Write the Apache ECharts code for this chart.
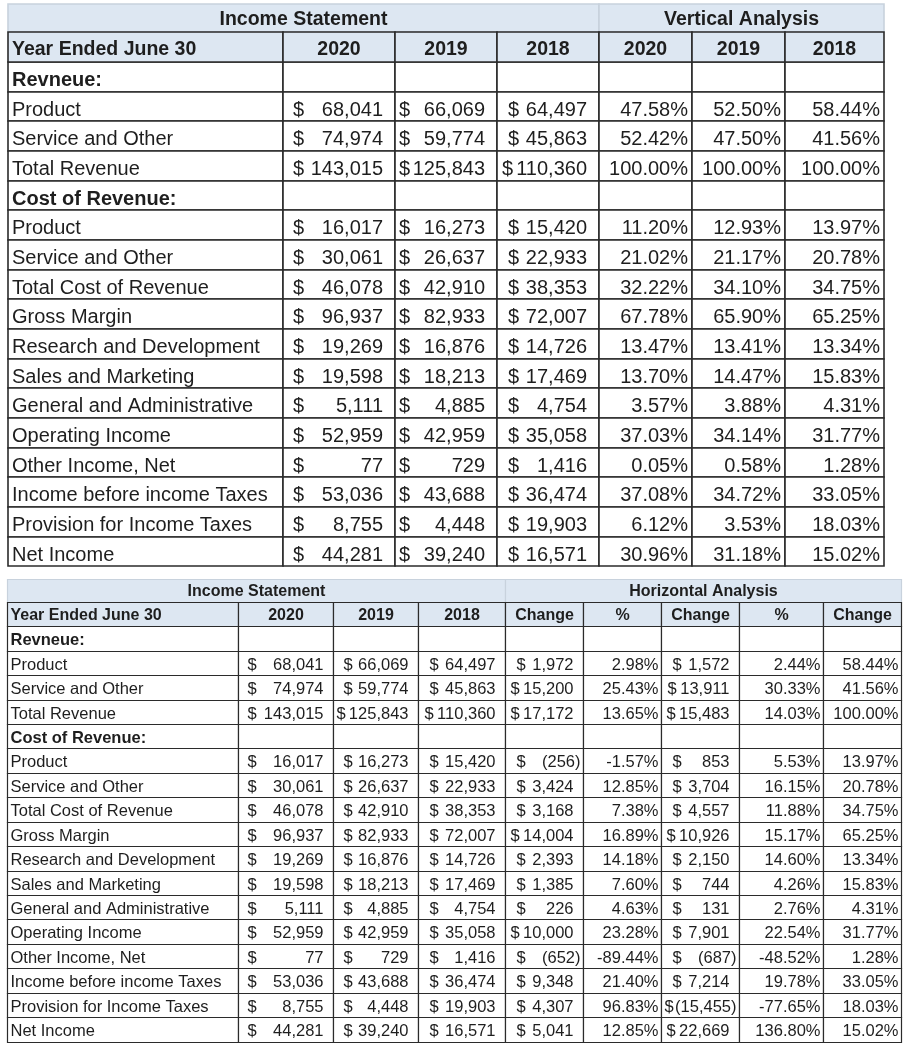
<!DOCTYPE html>
<html><head><meta charset="utf-8">
<script src="https://cdn.jsdelivr.net/npm/echarts@6/dist/echarts.min.js"></script>
<style>html,body{margin:0;padding:0;background:#fff}#c{width:910px;height:1052px}</style>
</head><body><div id="c"></div><script>
// ---------- data ----------
const rowLabels = ['Revneue:', 'Product', 'Service and Other', 'Total Revenue', 'Cost of Revenue:', 'Product', 'Service and Other', 'Total Cost of Revenue', 'Gross Margin', 'Research and Development', 'Sales and Marketing', 'General and Administrative', 'Operating Income', 'Other Income, Net', 'Income before income Taxes', 'Provision for Income Taxes', 'Net Income'];
const years = ['2020', '2019', '2018'];
const is2020 = [null, 68041, 74974, 143015, null, 16017, 30061, 46078, 96937, 19269, 19598, 5111, 52959, 77, 53036, 8755, 44281];
const is2019 = [null, 66069, 59774, 125843, null, 16273, 26637, 42910, 82933, 16876, 18213, 4885, 42959, 729, 43688, 4448, 39240];
const is2018 = [null, 64497, 45863, 110360, null, 15420, 22933, 38353, 72007, 14726, 17469, 4754, 35058, 1416, 36474, 19903, 16571];
const va2020 = [null, 47.58, 52.42, 100.00, null, 11.20, 21.02, 32.22, 67.78, 13.47, 13.70, 3.57, 37.03, 0.05, 37.08, 6.12, 30.96];
const va2019 = [null, 52.50, 47.50, 100.00, null, 12.93, 21.17, 34.10, 65.90, 13.41, 14.47, 3.88, 34.14, 0.58, 34.72, 3.53, 31.18];
const va2018 = [null, 58.44, 41.56, 100.00, null, 13.97, 20.78, 34.75, 65.25, 13.34, 15.83, 4.31, 31.77, 1.28, 33.05, 18.03, 15.02];
const haChange1 = [null, 1972, 15200, 17172, null, -256, 3424, 3168, 14004, 2393, 1385, 226, 10000, -652, 9348, 4307, 5041];
const haPct1 = [null, 2.98, 25.43, 13.65, null, -1.57, 12.85, 7.38, 16.89, 14.18, 7.60, 4.63, 23.28, -89.44, 21.40, 96.83, 12.85];
const haChange2 = [null, 1572, 13911, 15483, null, 853, 3704, 4557, 10926, 2150, 744, 131, 7901, -687, 7214, -15455, 22669];
const haPct2 = [null, 2.44, 30.33, 14.03, null, 5.53, 16.15, 11.88, 15.17, 14.60, 4.26, 2.76, 22.54, -48.52, 19.78, -77.65, 136.80];
const haLast = [null, 58.44, 41.56, 100.00, null, 13.97, 20.78, 34.75, 65.25, 13.34, 15.83, 4.31, 31.77, 1.28, 33.05, 18.03, 15.02];
const topTitles = ['Income Statement', 'Vertical Analysis'];
const bottomTitles = ['Income Statement', 'Horizontal Analysis'];
const yearHeader = 'Year Ended June 30';
const haHeaders = ['Change', '%', 'Change', '%', 'Change'];

// ---------- styles ----------
const FONT = 'Liberation Sans';
const HEAD_BG = '#dde7f2';
const LINE = '#2b2b2b';
const LIGHT_LINE = '#c8d2dd';
const TXT = '#1e1e1e';
const MAX_DPAD = 12;

const measureCtx = document.createElement('canvas').getContext('2d');
function textW(s, fs) { measureCtx.font = fs + 'px "' + FONT + '"'; return measureCtx.measureText(s).width; }

function fmtNum(v) { return Math.abs(v).toLocaleString('en-US'); }
// money cell: "$" pinned left with an inset that shrinks when the number is wide, number pinned right
function moneyCol(arr, colPad, avail, fs, numPad) {
  return arr.map(v => {
    if (v == null) return '';
    const num = v < 0 ? '(' + fmtNum(v) + ')' : fmtNum(v);
    const need = textW('$', fs) + textW(num, fs) + (v < 0 ? 0 : numPad) + 3;
    const p = Math.max(0, Math.min(colPad, Math.floor(avail - need)));
    return '{d' + p + '|$}' + (v < 0 ? '{ng|' + num + '}' : '{n|' + num + '}');
  });
}
function pct(v) { return v == null ? '' : '{r|' + v.toFixed(2) + '%}'; }
function lab(s, i) { const bold = is2020[i] == null; return '{' + (bold ? 'lb' : 'l') + '|' + s + '}'; }

function richSet(fs, hfs, numPad) {
  const base = { fontSize: fs, fontFamily: FONT, color: TXT };
  const rich = {
    l: Object.assign({ align: 'left' }, base),
    lb: Object.assign({ align: 'left', fontWeight: 'bold' }, base),
    hl: { align: 'left', fontSize: hfs, fontFamily: FONT, color: TXT, fontWeight: 'bold' },
    n: Object.assign({ align: 'right', padding: [0, numPad, 0, 0] }, base),
    ng: Object.assign({ align: 'right' }, base),
    r: Object.assign({ align: 'right' }, base)
  };
  for (let p = 0; p <= MAX_DPAD; p++) rich['d' + p] = Object.assign({ align: 'left', padding: [0, 0, 0, p] }, base);
  return rich;
}

function buildBody(o) {
  const data = [];
  const headStyle = { color: HEAD_BG };
  const titleStyle = { color: HEAD_BG, borderColor: LIGHT_LINE };
  const vpad = [2 * o.dy, 0, 0, 0];
  let start = 0;
  o.titles.forEach((t, k) => {
    const end = start + o.titleSpans[k] - 1;
    data.push({
      coord: [[start, end], [0, 0]], mergeCells: true, value: t,
      itemStyle: titleStyle,
      label: { fontWeight: 'bold', fontSize: o.hfs, fontFamily: FONT, color: TXT, padding: [2 * o.dyTitle, 0, 0, 0] }
    });
    start = end + 1;
  });
  o.headers.forEach((h, c) => {
    const isLeft = c === 0;
    data.push({
      coord: [c, 1], value: isLeft ? '{hl|' + h + '}' : h,
      itemStyle: headStyle,
      label: { fontWeight: 'bold', fontSize: o.hfs, fontFamily: FONT, color: TXT, width: o.widths[c] - 2 * o.pad, overflow: 'none', padding: vpad }
    });
  });
  o.columns.forEach((col, c) => {
    col.forEach((txt, r) => {
      data.push({ coord: [c, r + 2], value: txt, label: { width: o.widths[c] - 2 * o.pad, overflow: 'none', padding: vpad } });
    });
  });
  return data;
}

function matrixOpt(o) {
  const rowSizes = [o.h1].concat(new Array(rowLabels.length + 1).fill(o.h2));
  return {
    left: o.left, top: o.top, width: o.width, height: o.height,
    x: { show: false, data: o.widths.map((w, i) => ({ value: 'c' + i, size: w })) },
    y: { show: false, data: rowSizes.map((h, i) => ({ value: 'r' + i, size: h })) },
    body: {
      data: buildBody(o),
      itemStyle: { color: '#ffffff', borderColor: LINE, borderWidth: o.bw },
      label: { fontSize: o.fs, fontFamily: FONT, color: TXT, overflow: 'none', rich: richSet(o.fs, o.hfs, o.numPad) }
    },
    backgroundStyle: { borderWidth: 0, color: 'transparent' }
  };
}

// top table
const T = { fs: 20, numPad: 8, pad: 4, widths: [275, 112, 102, 102, 93, 93, 99], dollarPads: [6, 0, 7] };
const tAvail = c => T.widths[c] - 2 * T.pad;
const topCols = [rowLabels.map(lab),
  moneyCol(is2020, T.dollarPads[0], tAvail(1), T.fs, T.numPad),
  moneyCol(is2019, T.dollarPads[1], tAvail(2), T.fs, T.numPad),
  moneyCol(is2018, T.dollarPads[2], tAvail(3), T.fs, T.numPad),
  va2020.map(pct), va2019.map(pct), va2018.map(pct)];
// bottom table
const B = { fs: 16.5, numPad: 7, pad: 3, widths: [231, 95, 85, 87, 78, 78, 78, 84, 78], dollarPads: [6, 7, 8, 8, 8] };
const bAvail = c => B.widths[c] - 2 * B.pad;
const botCols = [rowLabels.map(lab),
  moneyCol(is2020, B.dollarPads[0], bAvail(1), B.fs, B.numPad),
  moneyCol(is2019, B.dollarPads[1], bAvail(2), B.fs, B.numPad),
  moneyCol(is2018, B.dollarPads[2], bAvail(3), B.fs, B.numPad),
  moneyCol(haChange1, B.dollarPads[3], bAvail(4), B.fs, B.numPad),
  haPct1.map(pct),
  moneyCol(haChange2, B.dollarPads[4], bAvail(6), B.fs, B.numPad),
  haPct2.map(pct), haLast.map(pct)];

const chart = echarts.init(document.getElementById('c'), null, { renderer: 'canvas' });
chart.setOption({
  backgroundColor: '#ffffff',
  animation: false,
  matrix: [
    matrixOpt({
      left: 8, top: 4, width: 876, height: 562, widths: T.widths, h1: 28, h2: 29.67, bw: 1.6, fs: T.fs, hfs: 19.5, numPad: T.numPad, pad: T.pad, dy: 4, dyTitle: 3,
      titles: topTitles, titleSpans: [4, 3], headers: [yearHeader].concat(years, years), columns: topCols
    }),
    matrixOpt({
      left: 7, top: 579, width: 894, height: 463, widths: B.widths, h1: 23, h2: 24.44, bw: 1.2, fs: B.fs, hfs: 16, numPad: B.numPad, pad: B.pad, dy: 2.5, dyTitle: 2,
      titles: bottomTitles, titleSpans: [4, 5], headers: [yearHeader].concat(years, haHeaders), columns: botCols
    })
  ]
});
</script></body></html>
